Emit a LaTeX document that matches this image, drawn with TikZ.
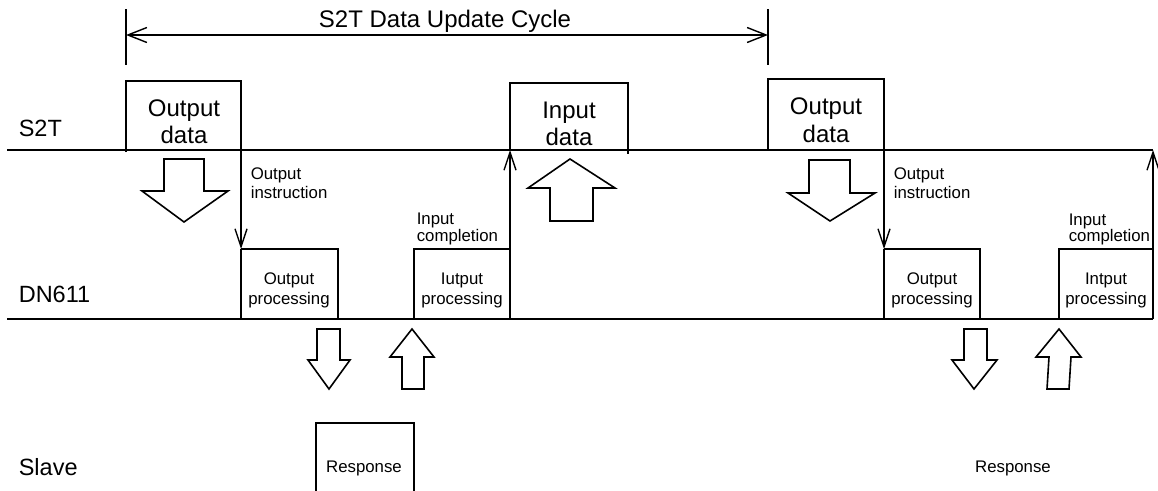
\documentclass[tikz,border=0pt]{standalone}
\usepackage{fontspec}
\setmainfont{Liberation Sans}
\usetikzlibrary{arrows.meta}

\begin{document}
\begin{tikzpicture}[x=1pt, y=-1pt, line width=1.6pt, line join=miter,
  big/.style={font=\fontsize{24}{28}\selectfont, inner sep=0pt, anchor=base},
  lane/.style={font=\fontsize{23.5}{28}\selectfont, inner sep=0pt, anchor=base west},
  small/.style={font=\fontsize{16.8}{19}\selectfont, inner sep=0pt, anchor=base},
  note/.style={small, anchor=base west},
  block/.style={fill=white},
  sig/.style={-{Straight Barb[length=18pt,width=12pt,line width=1.4pt]}},
  dim/.style={{Straight Barb[length=19pt,width=15pt,line width=1.4pt]}-{Straight Barb[length=19pt,width=15pt,line width=1.4pt]}}]

\useasboundingbox (0,0) rectangle (1158,490);

% ---- cycle dimension ----
\coordinate (dimL) at (126,35);
\coordinate (dimR) at (768,35);
\draw (126,9) -- (126,65);
\draw (768,9) -- (768,65);
\draw[dim] (dimL) -- (dimR);
\node[big] (title) at (445,27) {S2T Data Update Cycle};

% ---- lane labels ----
\node[lane] (lS2T) at (18,136) {S2T};
\node[lane] (lDN)  at (18,302) {DN611};
\node[lane] (lSl)  at (18,475) {Slave};

% ---- time lines ----
\coordinate (s2tA) at (7,150);   \coordinate (s2tB) at (1153,150);
\coordinate (dnA)  at (7,319);   \coordinate (dnB)  at (1153,319);
\draw (s2tA) -- (s2tB);
\draw (dnA) -- (dnB);

% ---- S2T pulses ----
\coordinate (od1R) at (241,150);
\draw (126,152) -- (126,81) -- (241,81) -- (od1R);
\node[big] (od1a) at (184,116) {Output};
\node[big] (od1b) at (184,143) {data};

\coordinate (idL) at (510,150);
\draw (idL) -- (510,83) -- (628,83) -- (628,154);
\node[big] (ida) at (569,118) {Input};
\node[big] (idb) at (569,145) {data};

\coordinate (od2R) at (884,150);
\draw (768,150) -- (768,79) -- (884,79) -- (od2R);
\node[big] (od2a) at (826,114) {Output};
\node[big] (od2b) at (826,142) {data};

% ---- DN611 pulses ----
\coordinate (op1L) at (241,249);
\draw (op1L) -- (338,249) -- (338,319);
\draw (241,319) -- (op1L);
\node[small] (op1a) at (289,284) {Output};
\node[small] (op1b) at (289,304) {processing};

\coordinate (ip1R) at (510,319);
\draw (414,319) -- (414,249) -- (510,249);
\node[small] (ip1a) at (462,284) {Iutput};
\node[small] (ip1b) at (462,304) {processing};

\coordinate (op2L) at (884,249);
\draw (op2L) -- (980,249) -- (980,319);
\draw (884,319) -- (op2L);
\node[small] (op2a) at (932,284) {Output};
\node[small] (op2b) at (932,304) {processing};

\coordinate (ip2R) at (1153,319);
\draw (1059,319) -- (1059,249) -- (1153,249);
\node[small] (ip2a) at (1106,284) {Intput};
\node[small] (ip2b) at (1106,304) {processing};

% ---- hand-over signals ----
\draw[sig] (od1R) -- (op1L);
\draw[sig] (od2R) -- (op2L);
\draw[sig] (ip1R) -- (idL);
\draw[sig] (ip2R) -- (s2tB);

\node[note] (oi1a) at (250,179) {Output};
\node[note] (oi1b) at (250,198) {instruction};
\node[note] (ic1a) at (416,224) {Input};
\node[note] (ic1b) at (416,241) {completion};
\node[note] (oi2a) at (893,179) {Output};
\node[note] (oi2b) at (893,198) {instruction};
\node[note] (ic2a) at (1068,225) {Input};
\node[note] (ic2b) at (1068,241) {completion};

% ---- block arrows ----
\draw[block] (164,159) -- (204,159) -- (204,191) -- (228,191) -- (184,222) -- (142,191) -- (164,191) -- cycle;
\draw[block] (570,159) -- (615,188) -- (593,188) -- (593,221) -- (550,221) -- (550,188) -- (528,188) -- cycle;
\draw[block] (809,160) -- (850,160) -- (850,193) -- (875,193) -- (830,221) -- (788,193) -- (809,193) -- cycle;

\draw[block] (317,329) -- (340,329) -- (340,360) -- (350,360) -- (329,389) -- (308,360) -- (317,360) -- cycle;
\draw[block] (412,329) -- (434,357) -- (424,357) -- (424,389) -- (402,389) -- (402,357) -- (390,357) -- cycle;
\draw[block] (964,329) -- (987,329) -- (987,360) -- (997,360) -- (974,389) -- (952,360) -- (964,360) -- cycle;
\draw[block] (1059,329) -- (1081,357) -- (1071,357) -- (1069,389) -- (1047,389) -- (1049,357) -- (1036,357) -- cycle;

% ---- slave response ----
\draw (316,491) -- (316,423) -- (414,423) -- (414,491);
\node[small] (rs1) at (364,472) {Response};
\node[small] (rs2) at (1013,472) {Response};

\end{tikzpicture}
\end{document}
